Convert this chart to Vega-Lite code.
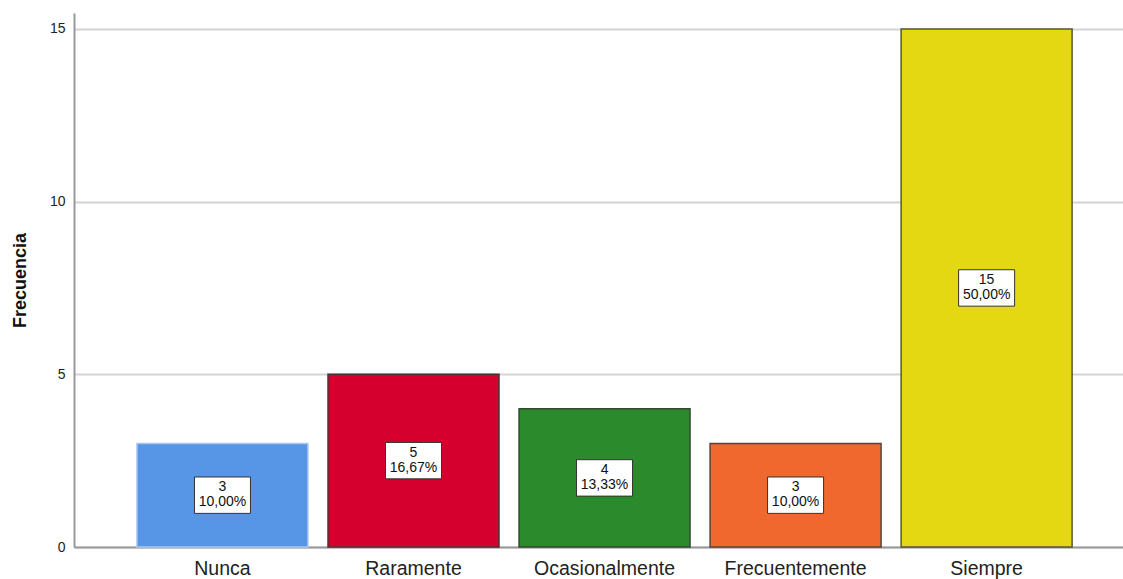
{
  "$schema": "https://vega.github.io/schema/vega-lite/v6.json",
  "width": 1049,
  "height": 534,
  "padding": {"left": 74, "top": 13, "right": 0, "bottom": 32},
  "autosize": {"type": "none"},
  "background": "white",
  "config": {
    "view": {"stroke": null},
    "font": "Liberation Sans"
  },
  "data": {
    "values": [
      {"categoria": "Nunca", "frecuencia": 3, "porcentaje": "10,00%"},
      {"categoria": "Raramente", "frecuencia": 5, "porcentaje": "16,67%"},
      {"categoria": "Ocasionalmente", "frecuencia": 4, "porcentaje": "13,33%"},
      {"categoria": "Frecuentemente", "frecuencia": 3, "porcentaje": "10,00%"},
      {"categoria": "Siempre", "frecuencia": 15, "porcentaje": "50,00%"}
    ]
  },
  "encoding": {
    "x": {
      "field": "categoria",
      "type": "nominal",
      "sort": null,
      "scale": {"paddingInner": 0.105, "paddingOuter": 0.298, "align": 0.553},
      "axis": {
        "title": null,
        "labelAngle": 0,
        "labelFontSize": 19.5,
        "labelColor": "#222222",
        "labelPadding": 12,
        "ticks": false,
        "domainColor": "#999999",
        "domainWidth": 2,
        "grid": false
      }
    }
  },
  "layer": [
    {
      "mark": {"type": "bar", "strokeWidth": 1.5},
      "encoding": {
        "y": {
          "field": "frecuencia",
          "type": "quantitative",
          "scale": {"domain": [0, 15.46], "nice": false},
          "axis": {
            "title": "Frecuencia",
            "titleFontSize": 18,
            "titleFontWeight": "bold",
            "titleColor": "#111111",
            "titlePadding": 20,
            "values": [0, 5, 10, 15],
            "labelFontSize": 14,
            "labelColor": "#222222",
            "labelPadding": 9,
            "ticks": false,
            "domainColor": "#999999",
            "domainWidth": 2,
            "gridColor": "#d4d4d4",
            "gridWidth": 2
          }
        },
        "fill": {
          "field": "categoria",
          "type": "nominal",
          "legend": null,
          "scale": {
            "domain": ["Nunca", "Raramente", "Ocasionalmente", "Frecuentemente", "Siempre"],
            "range": ["#5796e6", "#d6002f", "#2b8a2b", "#f0682d", "#e3d812"]
          }
        },
        "stroke": {
          "field": "categoria",
          "type": "nominal",
          "legend": null,
          "scale": {
            "domain": ["Nunca", "Raramente", "Ocasionalmente", "Frecuentemente", "Siempre"],
            "range": ["#a9c8f0", "#4a3036", "#344834", "#5a4438", "#5a5632"]
          }
        }
      }
    },
    {
      "transform": [{"calculate": "datum.frecuencia / 2", "as": "mitad"}],
      "mark": {
        "type": "point",
        "shape": "M-1,-0.65L1,-0.65L1,0.65L-1,0.65Z",
        "size": 3136,
        "filled": true,
        "fill": "white",
        "stroke": "#333333",
        "strokeWidth": 1,
        "opacity": 1
      },
      "encoding": {
        "y": {"field": "mitad", "type": "quantitative"}
      }
    },
    {
      "transform": [{"calculate": "datum.frecuencia / 2", "as": "mitad"}],
      "mark": {"type": "text", "fontSize": 14, "color": "#111111", "dy": -8},
      "encoding": {
        "y": {"field": "mitad", "type": "quantitative"},
        "text": {"field": "frecuencia", "type": "quantitative"}
      }
    },
    {
      "transform": [{"calculate": "datum.frecuencia / 2", "as": "mitad"}],
      "mark": {"type": "text", "fontSize": 14, "color": "#111111", "dy": 7},
      "encoding": {
        "y": {"field": "mitad", "type": "quantitative"},
        "text": {"field": "porcentaje", "type": "nominal"}
      }
    }
  ]
}
